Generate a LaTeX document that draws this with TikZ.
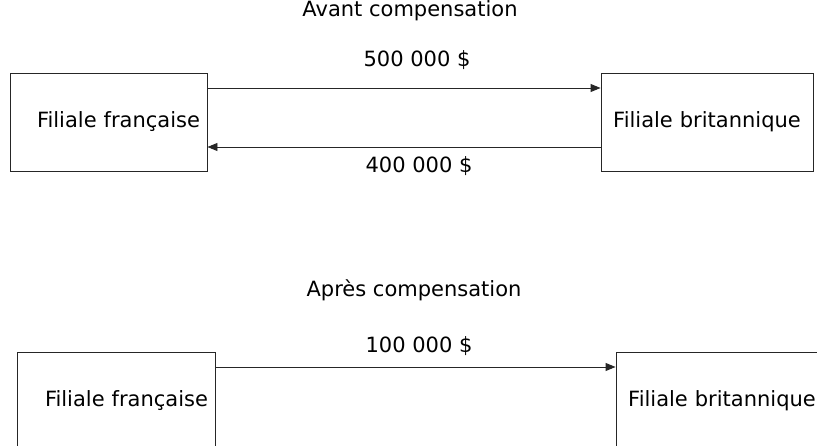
\documentclass[tikz,border=0pt]{standalone}
\usepackage{fontspec}
\setmainfont{DejaVu Sans}
\usetikzlibrary{positioning,arrows.meta}

\begin{document}
\begin{tikzpicture}[x=1pt,y=-1pt]
            \useasboundingbox (0,0) rectangle (817,446);
            \clip (0,0) rectangle (817,446);

            % titres et montants
            \begin{scope}[every node/.style={anchor=base,inner sep=0pt,font=\fontsize{21}{25}\selectfont}]
                \node (titreAvant) at (410,17) {Avant compensation};
                \node (mont500) at (417,67) {500 000 \$};
                \node (mont400) at (419,173) {400 000 \$};
                \node (titreApres) at (414,297) {Après compensation};
                \node (mont100) at (419,353) {100 000 \$};
            \end{scope}

            % filiales
            \begin{scope}[every node/.style={draw=black!85,line width=0.9pt,minimum height=98pt,
                          inner xsep=7pt,inner ysep=0pt,font=\fontsize{21}{25}\selectfont}]
                \node[text width=183pt,align=right] (frA) at (108.5,122) {Filiale française};
                \node[text width=198pt,align=center] (ukA) at (707,122) {Filiale britannique};
                \node[text width=184pt,align=right] (frB) at (116,401) {Filiale française};
                \node[text width=198pt,align=center] (ukB) at (722,401) {Filiale britannique};
            \end{scope}

            \begin{scope}[>={Triangle[length=10pt,width=8pt]},
                          every path/.style={draw=black!85,line width=0.9pt}]
                \draw [->] ([yshift=34pt]frA.east) -- ([yshift=34pt]ukA.west);
                \draw [->] ([yshift=-25pt]ukA.west) -- ([yshift=-25pt]frA.east);
                \draw [->] ([yshift=34pt]frB.east) -- ([yshift=34pt]ukB.west);
            \end{scope}
        \end{tikzpicture}
\end{document}
